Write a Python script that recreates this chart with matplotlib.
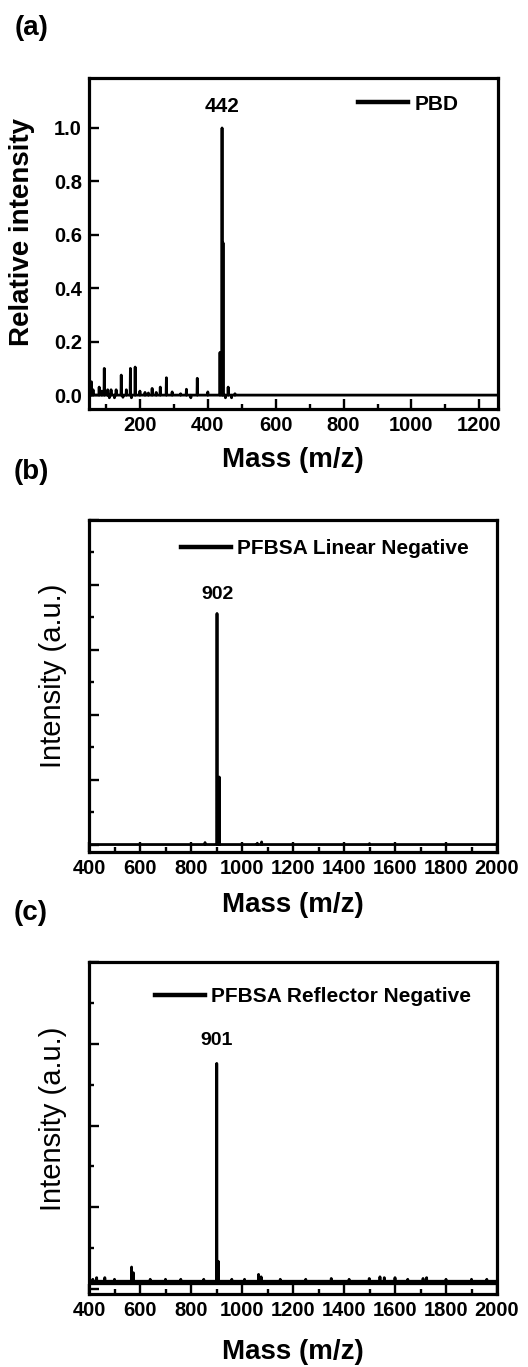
import numpy as np
import matplotlib
matplotlib.use("Agg")
import matplotlib.pyplot as plt
from matplotlib.ticker import MultipleLocator

plt.rcParams['font.family'] = ['Liberation Sans', 'DejaVu Sans']

W, H = 528, 1367

# (a) PBD, relative intensity
pbd_mass = [57, 62, 80, 88, 95, 105, 110, 115, 125, 130, 145, 150, 160, 172, 175, 186,
            200, 215, 225, 236, 248, 260, 278, 295, 320, 337, 350, 369, 400,
            436, 442, 445, 452, 460, 470, 480]
pbd_int = [0.05, 0.02, 0.03, 0.015, 0.10, 0.02, -0.01, 0.02, -0.01, 0.02, 0.075, -0.008, 0.02,
           0.10, -0.01, 0.105, 0.015, 0.01, 0.008, 0.025, 0.01, 0.03, 0.065, 0.012, 0.005,
           0.022, -0.01, 0.063, 0.012, 0.16, 1.0, 0.57, -0.01, 0.03, -0.01, 0.005]

# (b) PFBSA linear negative, arbitrary units
lin_mass = [855, 902, 911, 1060, 1077, 1500]
lin_int = [0.03, 3.56, 1.04, 0.02, 0.04, 0.015]

# (c) PFBSA reflector negative, arbitrary units
ref_base = 0.09
ref_mass = [415, 430, 462, 500, 567, 574, 640, 700, 760, 850, 901, 907, 960, 1010, 1065, 1075,
            1150, 1250, 1350, 1420, 1499, 1541, 1558, 1600, 1650, 1710, 1724, 1800, 1900, 1960]
ref_int = [0.12, 0.14, 0.14, 0.12, 0.27, 0.2, 0.12, 0.12, 0.12, 0.12, 2.76, 0.34, 0.12, 0.12,
           0.18, 0.15, 0.12, 0.12, 0.13, 0.12, 0.13, 0.15, 0.14, 0.14, 0.12, 0.13, 0.14,
           0.12, 0.12, 0.12]


def stick(mass, inten, base, lo, hi):
    order = np.argsort(mass)
    xs, ys = [lo], [base]
    for m, h in zip(np.asarray(mass)[order], np.asarray(inten)[order]):
        xs += [m - 0.8, m, m + 0.8]
        ys += [base, h, base]
    xs.append(hi)
    ys.append(base)
    return xs, ys


def px_axes(left, top, right, bottom):
    return [left / W, 1 - bottom / H, (right - left) / W, (bottom - top) / H]


def ftext(x, y, s, **kw):
    fig.text(x / W, 1 - y / H, s, ha='center', va='center', **kw)


def style(ax):
    for sp in ax.spines.values():
        sp.set_linewidth(2.3)
    ax.tick_params(which='both', direction='in', top=False, right=False,
                   width=1.7, labelsize=14.5, pad=5)
    ax.tick_params(which='major', length=7)
    ax.tick_params(which='minor', length=3.5)
    for lab in ax.get_xticklabels() + ax.get_yticklabels():
        lab.set_fontweight('bold')


def legend(ax, label, x, y):
    leg = ax.legend([label], loc='center left', bbox_to_anchor=(x, y), frameon=False,
                    handlelength=2.4, handletextpad=0.3, borderpad=0, borderaxespad=0,
                    prop={'weight': 'bold', 'size': 15})
    leg.get_lines()[0].set_linewidth(3.2)


fig = plt.figure(figsize=(W / 100, H / 100), dpi=100)

# ---- (a)
ax = fig.add_axes(px_axes(89, 78, 498, 409))
xs, ys = stick(pbd_mass, pbd_int, 0.0, 50, 1255)
ax.plot(xs, ys, color='black', lw=2.0)
ax.set_xlim(50, 1255)
ax.set_ylim(-0.052, 1.187)
ax.xaxis.set_minor_locator(MultipleLocator(100))
ax.set_xticks([200, 400, 600, 800, 1000, 1200])
ax.set_yticks([0.0, 0.2, 0.4, 0.6, 0.8, 1.0])
style(ax)
legend(ax, 'PBD', 0.658, 0.921)
ax.text(442, 1.045, '442', ha='center', va='bottom', fontsize=15, fontweight='bold')
ftext(32, 28, '(a)', fontsize=20, fontweight='bold')
ftext(293, 460, 'Mass (m/z)', fontsize=20, fontweight='bold')
ftext(22, 232, 'Relative intensity', fontsize=20, fontweight='bold', rotation=90)

# ---- (b)
ax = fig.add_axes(px_axes(89, 520, 497, 852))
xs, ys = stick(lin_mass, lin_int, 0.0, 400, 2000)
ax.plot(xs, ys, color='black', lw=2.0)
ax.set_xlim(400, 2000)
ax.set_ylim(-0.115, 5.0)
ax.xaxis.set_major_locator(MultipleLocator(200))
ax.xaxis.set_minor_locator(MultipleLocator(100))
ax.yaxis.set_major_locator(MultipleLocator(1))
ax.yaxis.set_minor_locator(MultipleLocator(0.5))
style(ax)
ax.tick_params(axis='y', labelleft=False)
legend(ax, 'PFBSA Linear Negative', 0.2255, 0.913)
ax.text(902, 3.72, '902', ha='center', va='bottom', fontsize=14, fontweight='bold')
ftext(31, 472, '(b)', fontsize=20, fontweight='bold')
ftext(293, 905, 'Mass (m/z)', fontsize=20, fontweight='bold')
ftext(53, 676, 'Intensity (a.u.)', fontsize=21, rotation=90)

# ---- (c)
ax = fig.add_axes(px_axes(89, 962, 497, 1294))
xs, ys = stick(ref_mass, ref_int, ref_base, 400, 2000)
ax.plot(xs, ys, color='black', lw=2.0)
ax.plot([400, 2000], [ref_base, ref_base], color='black', lw=3.8)
ax.set_xlim(400, 2000)
ax.set_ylim(-0.06, 4.0)
ax.xaxis.set_major_locator(MultipleLocator(200))
ax.xaxis.set_minor_locator(MultipleLocator(100))
ax.yaxis.set_major_locator(MultipleLocator(1))
ax.yaxis.set_minor_locator(MultipleLocator(0.5))
style(ax)
ax.tick_params(axis='y', labelleft=False)
legend(ax, 'PFBSA Reflector Negative', 0.1618, 0.8946)
ax.text(901, 2.93, '901', ha='center', va='bottom', fontsize=14, fontweight='bold')
ftext(31, 913, '(c)', fontsize=20, fontweight='bold')
ftext(293, 1352, 'Mass (m/z)', fontsize=20, fontweight='bold')
ftext(53, 1119, 'Intensity (a.u.)', fontsize=21, rotation=90)

fig.savefig('out.png', dpi=100)
